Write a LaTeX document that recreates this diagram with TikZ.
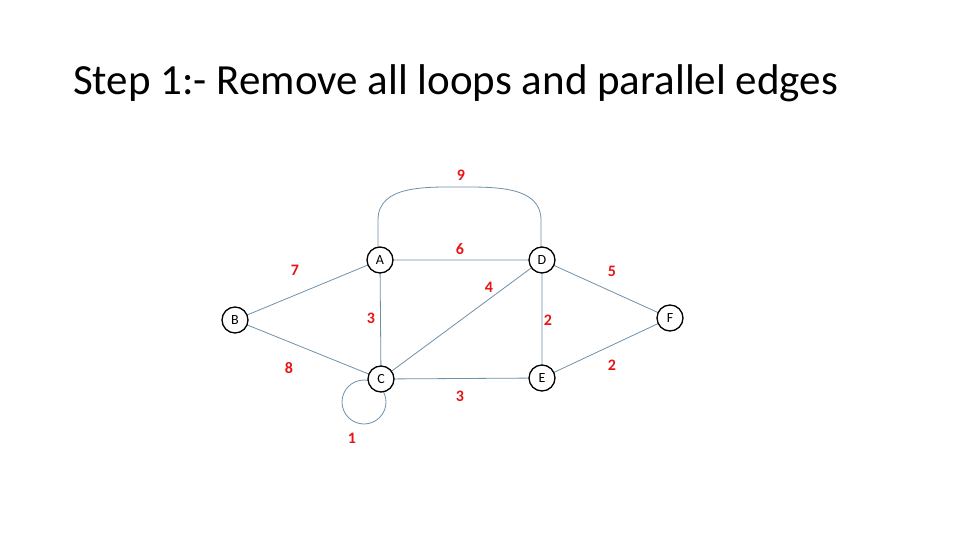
\documentclass[tikz,border=0pt]{standalone}
\usepackage{fontspec}
\setmainfont{Carlito}
\begin{document}
\begin{tikzpicture}[x=1pt,y=-1pt,
  vert/.style={circle,draw=black,line width=1.3pt,fill=white,minimum size=26pt,inner sep=0pt,font=\fontsize{14}{14}\selectfont},
  edge/.style={draw={rgb,255:red,110;green,145;blue,170},line width=0.8pt},
  wt/.style={text={rgb,255:red,230;green,20;blue,20},font=\fontsize{16}{16}\selectfont\bfseries}]
\useasboundingbox (0,0) rectangle (960,540);
\node[anchor=base west,inner sep=0pt,font=\fontsize{43}{43}\selectfont] (title) at (73,95) {Step 1:- Remove all loops and parallel edges};
\coordinate (A) at (380,260);
\coordinate (D) at (542,260);
\coordinate (B) at (235,320);
\coordinate (F) at (670,318);
\coordinate (C) at (381,379);
\coordinate (E) at (542,378);
\path[edge] (A) -- (D) (B) -- (A) (B) -- (C) (A) -- (C) (C) -- (D) (C) -- (E) (D) -- (E) (D) -- (F) (E) -- (F);
\path[edge] (378,250) -- (378,220) to[out=90,in=180] (461,187) to[out=0,in=90] (541,220) -- (541,250);
\path[edge] (364,402) circle[radius=22];
\node[vert] (nA) at (A) {A};
\node[vert] (nD) at (D) {D};
\node[vert] (nB) at (B) {B};
\node[vert] (nF) at (F) {F};
\node[vert] (nC) at (C) {C};
\node[vert] (nE) at (E) {E};
\node[wt] (w9) at (461,175) {9};
\node[wt] (w6) at (460,249) {6};
\node[wt] (w7) at (295,270) {7};
\node[wt] (w4) at (489,287) {4};
\node[wt] (w5) at (612,271) {5};
\node[wt] (w3a) at (371,318) {3};
\node[wt] (w2a) at (548,320) {2};
\node[wt] (w8) at (289,368) {8};
\node[wt] (w3b) at (460,396) {3};
\node[wt] (w2b) at (612,365) {2};
\node[wt] (w1) at (352,438) {1};
\end{tikzpicture}
\end{document}
